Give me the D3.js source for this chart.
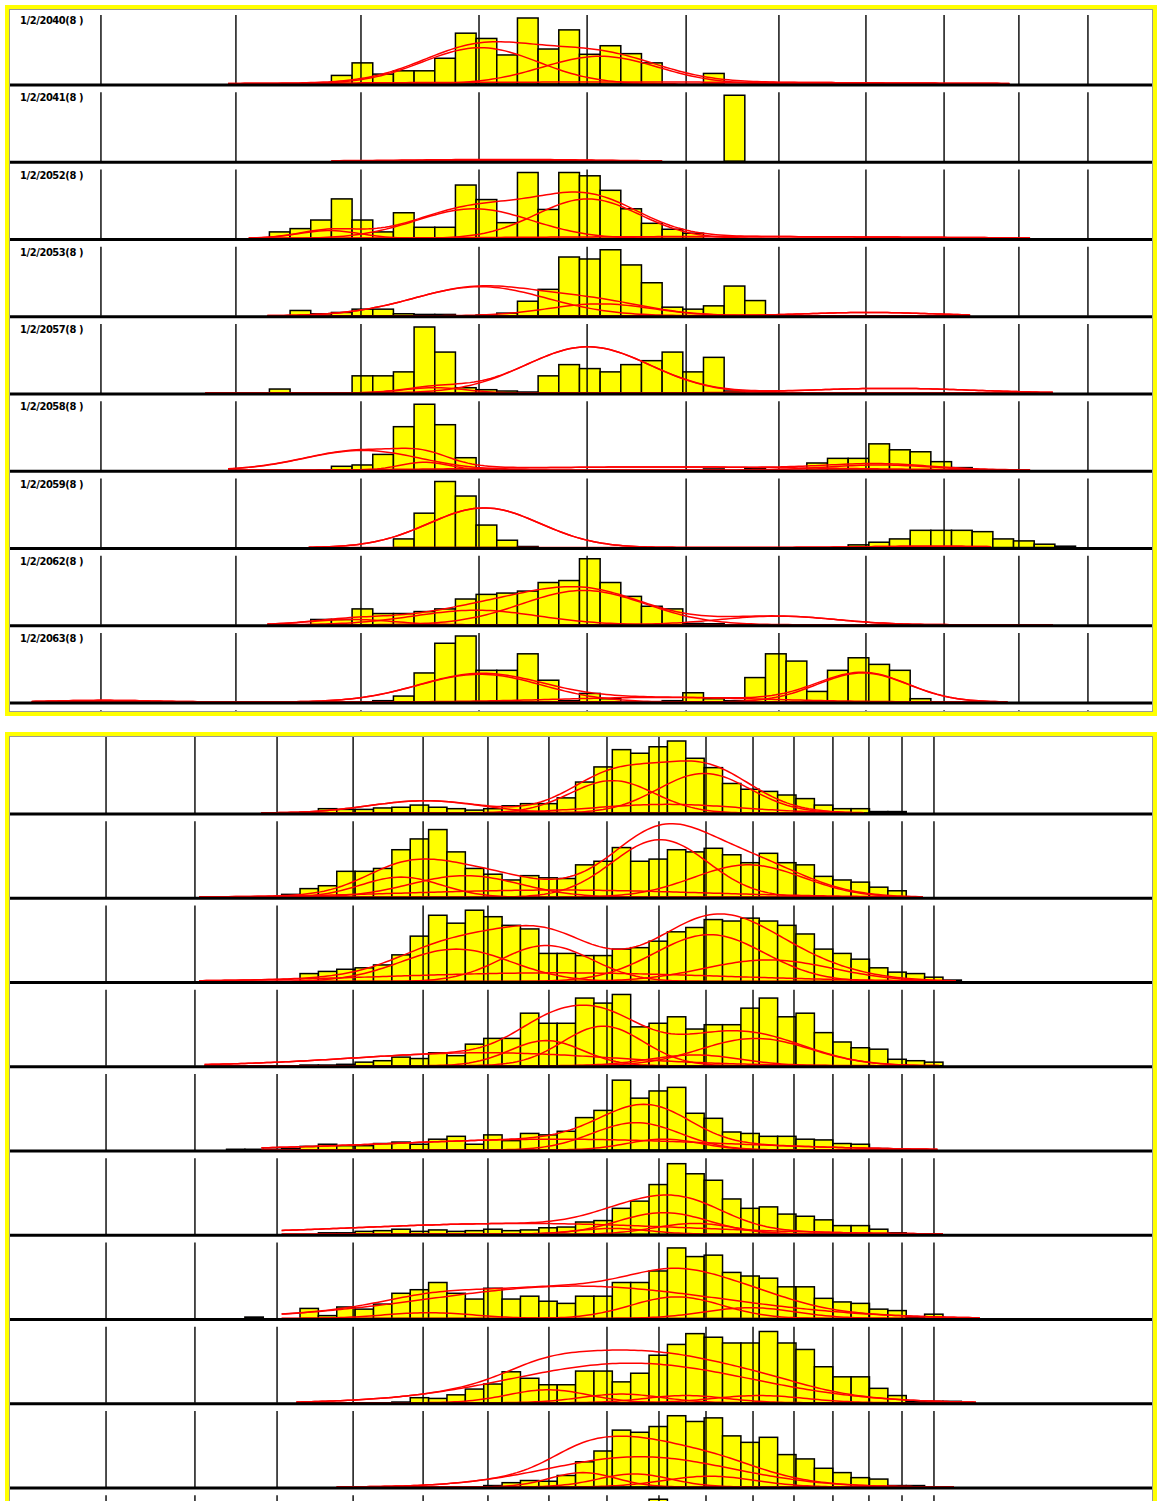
<!DOCTYPE html>
<html>
<head>
<meta charset="utf-8">
<script src="https://cdn.jsdelivr.net/npm/d3@7"></script>
<style>
  body { margin: 0; background: #fff; }
</style>
</head>
<body>
<div id="chart"></div>
<script>
// ---- data (bar heights are relative to the row maximum, bins are in class units) ----
const topLabels = ["1/2/2040(8 )", "1/2/2041(8 )", "1/2/2052(8 )", "1/2/2053(8 )", "1/2/2057(8 )",
                   "1/2/2058(8 )", "1/2/2059(8 )", "1/2/2062(8 )", "1/2/2063(8 )", "1/2/2064(8 )"];

const topGrid = [4.85, 11.38, 17.43, 23.14, 28.37, 33.16, 37.65, 41.86, 45.64, 49.26, 52.6];
const bottomGrid = [5.44, 10.28, 14.75, 18.89, 22.70, 26.23, 29.55, 32.71, 35.54, 38.10,
                    40.66, 42.89, 45.01, 46.97, 48.77, 50.51];

// first bin of each row
const topStart = [16, 35, 13, 14, 13, 16, 19, 15, 18, 30];
const bottomStart = [16, 15, 16, 16, 12, 17, 13, 21, 26, 35];

const bars2040 = [0.13, 0.32, 0.15, 0.2, 0.2, 0.39, 0.77, 0.69, 0.44, 1.0, 0.53, 0.82, 0.45, 0.58, 0.46, 0.32, 0, 0, 0.16];
const bars2041 = [1.0];
const bars2052 = [0.10, 0.15, 0.28, 0.60, 0.28, 0.10, 0.39, 0.17, 0.17, 0.81, 0.59, 0.24, 1.0, 0.44, 1.0, 0.95, 0.73, 0.45, 0.23, 0.14, 0.08];
const bars2053 = [0.08, 0.03, 0.05, 0.10, 0.10, 0.03, 0.02, 0.02, 0, 0.01, 0.04, 0.22, 0.40, 0.89, 0.86, 1.0, 0.77, 0.5, 0.13, 0.1, 0.15, 0.45, 0.23];
const bars2057 = [0.06, 0, 0, 0, 0.26, 0.26, 0.32, 1.0, 0.62, 0.08, 0.05, 0.03, 0.015, 0.26, 0.43, 0.37, 0.32, 0.43, 0.49, 0.62, 0.32, 0.54, 0.03];
const bars2058 = [0.06, 0.08, 0.24, 0.66, 1.0, 0.69, 0.19, 0.02, 0, 0, 0, 0, 0, 0, 0, 0, 0, 0,
                  0.02, 0, 0.03, 0, 0, 0.11, 0.18, 0.18, 0.40, 0.31, 0.28, 0.13, 0.04];
const bars2059 = [0.13, 0.52, 1.0, 0.78, 0.34, 0.11, 0.015, 0, 0, 0, 0, 0, 0, 0, 0, 0, 0, 0, 0, 0, 0, 0,
                  0.04, 0.08, 0.13, 0.26, 0.26, 0.26, 0.24, 0.13, 0.10, 0.05, 0.02];
const bars2062 = [0.08, 0.08, 0.24, 0.17, 0.17, 0.2, 0.24, 0.39, 0.46, 0.48, 0.51, 0.64, 0.67, 1.0, 0.64, 0.43, 0.28, 0.24, 0.02, 0.015];
const bars2063 = [0.02, 0.09, 0.44, 0.89, 1.0, 0.48, 0.48, 0.73, 0.33, 0.02, 0.13, 0.05, 0, 0, 0.02, 0.14, 0.05, 0.02,
                  0.37, 0.73, 0.62, 0.16, 0.48, 0.67, 0.57, 0.48, 0.05];
const bars2064 = [];

const barsB1 = [0.01, 0.06, 0.05, 0.05, 0.07, 0.08, 0.11, 0.08, 0.06, 0.04, 0.06, 0.10, 0.13, 0.13, 0.21, 0.43, 0.64,
                0.88, 0.83, 0.92, 1.0, 0.76, 0.63, 0.41, 0.33, 0.30, 0.25, 0.20, 0.11, 0.06, 0.06, 0.02, 0.02];
const barsB2 = [0.04, 0.12, 0.16, 0.36, 0.36, 0.40, 0.66, 0.81, 0.94, 0.63, 0.40, 0.32, 0.24, 0.30, 0.27, 0.26, 0.45,
                0.50, 0.69, 0.50, 0.53, 0.66, 0.63, 0.68, 0.59, 0.48, 0.61, 0.48, 0.45, 0.29, 0.24, 0.21, 0.14, 0.09];
const barsB3 = [0.11, 0.14, 0.17, 0.19, 0.23, 0.37, 0.63, 0.92, 0.81, 0.99, 0.90, 0.78, 0.73, 0.39, 0.39, 0.36, 0.36,
                0.45, 0.47, 0.56, 0.69, 0.75, 0.86, 0.84, 0.88, 0.84, 0.78, 0.66, 0.45, 0.39, 0.31, 0.19, 0.13, 0.11, 0.06, 0.02];
const barsB4 = [0.01, 0.01, 0.02, 0.05, 0.07, 0.12, 0.10, 0.18, 0.14, 0.30, 0.38, 0.38, 0.73, 0.59, 0.59, 0.94, 0.87,
                0.99, 0.54, 0.59, 0.68, 0.51, 0.57, 0.57, 0.80, 0.94, 0.68, 0.73, 0.46, 0.33, 0.25, 0.23, 0.09, 0.07, 0.05];
const barsB5 = [0.01, 0.01, 0.01, 0.02, 0.05, 0.08, 0.06, 0.06, 0.09, 0.11, 0.08, 0.15, 0.19, 0.08, 0.21, 0.13, 0.23,
                0.21, 0.26, 0.45, 0.55, 0.97, 0.72, 0.82, 0.87, 0.51, 0.44, 0.25, 0.23, 0.19, 0.19, 0.15, 0.14, 0.09, 0.08, 0.02];
const barsB6 = [0.02, 0.02, 0.04, 0.05, 0.07, 0.04, 0.06, 0.04, 0.05, 0.07, 0.05, 0.06, 0.09, 0.10, 0.17, 0.19, 0.36,
                0.46, 0.69, 0.98, 0.84, 0.75, 0.49, 0.36, 0.38, 0.28, 0.25, 0.20, 0.12, 0.12, 0.07, 0.02];
const barsB7 = [0.02, 0, 0, 0.14, 0.04, 0.16, 0.13, 0.20, 0.35, 0.40, 0.50, 0.35, 0.27, 0.42, 0.27, 0.31, 0.24, 0.21,
                0.31, 0.31, 0.50, 0.50, 0.66, 0.98, 0.86, 0.88, 0.64, 0.59, 0.56, 0.44, 0.44, 0.28, 0.23, 0.21, 0.13, 0.11, 0.02, 0.06];
const barsB8 = [0.01, 0.07, 0.06, 0.11, 0.19, 0.26, 0.43, 0.34, 0.25, 0.25, 0.44, 0.44, 0.29, 0.41, 0.66, 0.81, 0.96,
                0.91, 0.83, 0.83, 0.99, 0.83, 0.74, 0.50, 0.36, 0.36, 0.20, 0.10, 0.02, 0.02, 0.02];
const barsB9 = [0.02, 0.06, 0.09, 0.08, 0.16, 0.35, 0.50, 0.79, 0.76, 0.84, 0.99, 0.91, 0.96, 0.71, 0.62, 0.69, 0.45,
                0.39, 0.26, 0.20, 0.13, 0.11, 0.02, 0.02];
const barsB10 = [1.0, 0.95];

// fitted normal components: [mean, sd, peak]
const fits2040 = [[23.2, 2.8, 0.55], [29.0, 2.8, 0.42], [30, 12, 0.03]];
const fits2041 = [[25, 4, 0.02], [21, 6, 0.01]];
const fits2052 = [[15.9, 1.5, 0.12], [22.9, 2.8, 0.45], [28.4, 2.5, 0.6], [35, 10, 0.03]];
const fits2053 = [[23.2, 3.2, 0.44], [29, 2.5, 0.18], [42, 3, 0.05]];
const fits2057 = [[28.4, 3.0, 0.7], [21, 1.5, 0.08], [43, 4, 0.07]];
const fits2058 = [[17.5, 2.8, 0.3], [20.5, 1.2, 0.12], [32, 8, 0.05], [42.5, 2.5, 0.08]];
const fits2059 = [[23.4, 2.7, 0.6], [45, 3, 0.02]];
const fits2062 = [[28.2, 3.0, 0.52], [23, 3, 0.22], [17, 2, 0.08], [37.6, 2.8, 0.13]];
const fits2063 = [[5, 2.5, 0.025], [23.2, 3.0, 0.42], [32, 5, 0.07], [41.7, 2.2, 0.44]];
const fits2064 = [];

const fitsB1 = [[22.8, 3.0, 0.17], [33.0, 2.3, 0.45], [38.0, 2.5, 0.55], [36, 4, 0.12]];
const fitsB2 = [[21.5, 2.2, 0.28], [25.0, 3.0, 0.3], [35.6, 2.6, 0.8], [40.4, 3.0, 0.45], [30, 8, 0.1]];
const fitsB3 = [[24.5, 3.0, 0.45], [29.4, 2.5, 0.5], [38.3, 3.0, 0.65], [41.5, 3.5, 0.3], [30, 9, 0.12]];
const fitsB4 = [[26, 7, 0.18], [29.4, 2.0, 0.35], [32.5, 2.2, 0.55], [40.8, 3.0, 0.38], [37.5, 2.5, 0.15]];
const fitsB5 = [[30, 9, 0.15], [34.3, 2.4, 0.38], [35.8, 2.0, 0.15]];
const fitsB6 = [[28, 9, 0.15], [35.8, 2.5, 0.3], [37.5, 2.2, 0.15], [33, 2, 0.08]];
const fitsB7 = [[31, 8, 0.45], [36.5, 2.5, 0.3], [40.5, 2.5, 0.15], [23, 2.5, 0.08]];
const fitsB8 = [[34, 6.5, 0.55], [29.5, 2.2, 0.18], [33.5, 2.2, 0.12], [37, 2.2, 0.1], [41, 2.5, 0.1]];
const fitsB9 = [[34.5, 5, 0.42], [31.4, 1.8, 0.2], [34.2, 2, 0.18], [38.3, 2.5, 0.15]];
const fitsB10 = [];

// x extent over which the fits were drawn
const topFitRange = [[11, 48.8], [16, 32], [12, 49.8], [12.9, 46.9], [9.9, 50.9], [11, 49.9], [14.9, 48], [12.9, 50.9], [1.5, 48.8], [0, 0]];
const bottomFitRange = [[13.9, 46.7], [10.5, 50], [10.5, 51.7], [10.8, 50.8], [13.9, 50.8], [15, 51], [15, 53], [15.8, 52.8], [18, 51.6], [0, 0]];

const topBars = [bars2040, bars2041, bars2052, bars2053, bars2057, bars2058, bars2059, bars2062, bars2063, bars2064];
const topFits = [fits2040, fits2041, fits2052, fits2053, fits2057, fits2058, fits2059, fits2062, fits2063, fits2064];
const bottomBars = [barsB1, barsB2, barsB3, barsB4, barsB5, barsB6, barsB7, barsB8, barsB9, barsB10];
const bottomFits = [fitsB1, fitsB2, fitsB3, fitsB4, fitsB5, fitsB6, fitsB7, fitsB8, fitsB9, fitsB10];

// ---- layout ----
const width = 1157, height = 1501;
const YELLOW = "#ffff00", RED = "#ff0000";

const svg = d3.select("#chart").append("svg")
    .attr("width", width)
    .attr("height", height)
    .attr("viewBox", [0, 0, width, height]);

const xTop = d3.scaleLinear().domain([0, 56]).range([0.7, 0.7 + 56 * 20.67]);
const xBottom = d3.scaleLinear().domain([0, 63]).range([6.1, 6.1 + 63 * 18.37]);

const gauss = (t, f) => f[2] * Math.exp(-((t - f[0]) ** 2) / (2 * f[1] * f[1]));

const panels = [
    { x: xTop, clip: [10, 10, 1143, 703], frame: [7, 7, 1148, 707], base0: 84, step: 77.25, barH: 66, gridLen: 69,
      grid: topGrid, start: topStart, bars: topBars, fits: topFits, ranges: topFitRange, labels: topLabels },
    { x: xBottom, clip: [10, 736, 1143, 780], frame: [7, 734, 1148, 800], base0: 813, step: 84.25, barH: 72, gridLen: 76,
      grid: bottomGrid, start: bottomStart, bars: bottomBars, fits: bottomFits, ranges: bottomFitRange, labels: null }
];

panels.forEach((p, pi) => {
    svg.append("clipPath").attr("id", `clip${pi}`)
        .append("rect")
        .attr("x", p.clip[0]).attr("y", p.clip[1])
        .attr("width", p.clip[2]).attr("height", p.clip[3]);

    const g = svg.append("g").attr("clip-path", `url(#clip${pi})`);

    g.append("rect")
        .attr("x", p.clip[0]).attr("y", p.clip[1])
        .attr("width", p.clip[2]).attr("height", p.clip[3])
        .attr("fill", "#fff");

    p.bars.forEach((bars, ri) => {
        const base = p.base0 + ri * p.step;
        const y = d3.scaleLinear().domain([0, 1]).range([base, base - p.barH]);
        const row = g.append("g").attr("class", "row");
        const start = p.start[ri];

        // histogram
        row.selectAll("rect.bar")
            .data(bars.map((v, i) => ({ k: start + i, v })).filter(d => d.v > 0))
            .join("rect")
            .attr("class", "bar")
            .attr("x", d => p.x(d.k))
            .attr("width", d => p.x(d.k + 1) - p.x(d.k))
            .attr("y", d => y(d.v))
            .attr("height", d => base - y(d.v))
            .attr("fill", YELLOW)
            .attr("stroke", "#000")
            .attr("stroke-width", 1.5);

        // class boundaries
        row.selectAll("line.grid")
            .data(p.grid)
            .join("line")
            .attr("class", "grid")
            .attr("x1", d => p.x(d)).attr("x2", d => p.x(d))
            .attr("y1", base - p.gridLen).attr("y2", base)
            .attr("stroke", "#000")
            .attr("stroke-width", 1.4);

        // fitted curves: each component and their sum
        const fits = p.fits[ri];
        if (fits.length) {
            const [lo, hi] = p.ranges[ri];
            const ts = d3.range(lo, hi + 0.001, 0.2);
            const curves = fits.map(f => ts.map(t => [t, gauss(t, f)]));
            curves.push(ts.map(t => [t, d3.sum(fits, f => gauss(t, f))]));
            const line = d3.line().x(d => p.x(d[0])).y(d => y(d[1]));
            row.selectAll("path.fit")
                .data(curves)
                .join("path")
                .attr("class", "fit")
                .attr("d", line)
                .attr("fill", "none")
                .attr("stroke", RED)
                .attr("stroke-width", 1.5);
        }

        // baseline
        row.append("line")
            .attr("x1", 10).attr("x2", 1153)
            .attr("y1", base + 1).attr("y2", base + 1)
            .attr("stroke", "#000")
            .attr("stroke-width", 3);

        if (p.labels) {
            row.append("text")
                .attr("x", 20)
                .attr("y", base - 60)
                .attr("font-family", "'Liberation Sans Narrow', 'DejaVu Sans Condensed', sans-serif")
                .attr("font-weight", "bold")
                .attr("font-size", 11)
                .attr("letter-spacing", -0.4)
                .attr("fill", "#000")
                .text(p.labels[ri]);
        }
    });

    // frame
    svg.append("rect")
        .attr("x", p.frame[0] + 2.5).attr("y", p.frame[1] + 2.5)
        .attr("width", p.frame[2] - 5).attr("height", p.frame[3] - 5)
        .attr("fill", "none")
        .attr("stroke", "#999")
        .attr("stroke-width", 1);
    svg.append("rect")
        .attr("x", p.frame[0]).attr("y", p.frame[1])
        .attr("width", p.frame[2]).attr("height", p.frame[3])
        .attr("fill", "none")
        .attr("stroke", YELLOW)
        .attr("stroke-width", 4);
});
</script>
</body>
</html>
